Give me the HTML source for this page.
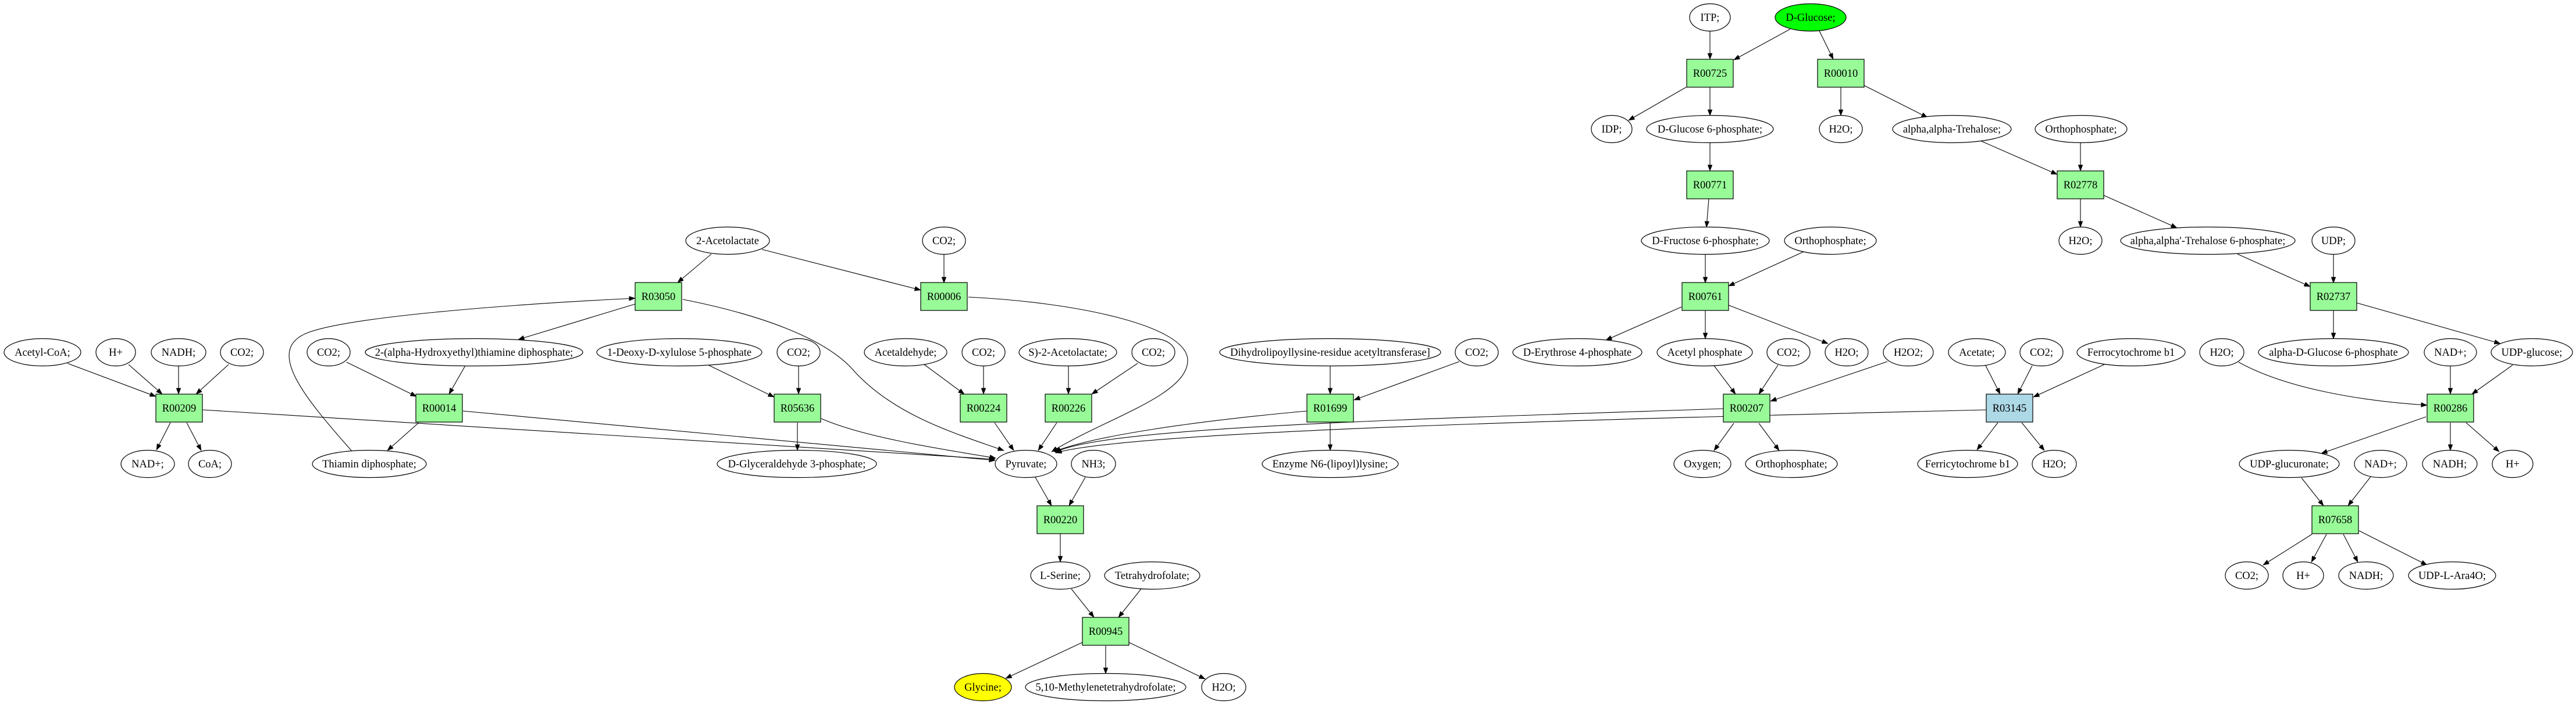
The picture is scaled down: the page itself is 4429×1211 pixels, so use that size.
<!DOCTYPE html>
<html><head><meta charset="utf-8"><style>
html,body{margin:0;padding:0;background:#fff;}
svg{display:block;}
text{font-family:"Liberation Serif","Times New Roman",serif;font-size:18.5px;text-anchor:middle;fill:#000;}
ellipse,rect.n{stroke:#000;stroke-width:1.2;}
path.e{fill:none;stroke:#000;stroke-width:1.1;marker-end:url(#ah);}
</style></head><body>
<svg width="4429" height="1211" viewBox="0 0 4429 1211" xmlns="http://www.w3.org/2000/svg">
<defs>
<marker id="ah" markerUnits="userSpaceOnUse" markerWidth="11" markerHeight="8" refX="10.5" refY="4" orient="auto">
<path d="M0,0 L10.5,4 L0,8 z" fill="#000" stroke="#000" stroke-width="0.5"/>
</marker>
</defs>
<rect x="0" y="0" width="4429" height="1211" style="fill:#fff;stroke:none"/>

<!-- edges -->
<path class="e" d="M2940,53 L2940,102"/>
<path class="e" d="M3078,50 L2981,103"/>
<path class="e" d="M3128,53 L3152,102"/>
<path class="e" d="M2899,150 L2800,207"/>
<path class="e" d="M2940,150 L2940,199"/>
<path class="e" d="M3165,150 L3165,199"/>
<path class="e" d="M3205,147 L3314,202"/>
<path class="e" d="M2940,246 L2940,294"/>
<path class="e" d="M3407,243 L3537,300"/>
<path class="e" d="M3577,246 L3577,294"/>
<path class="e" d="M2938,342 L2934,391"/>
<path class="e" d="M3577,342 L3577,391"/>
<path class="e" d="M3617,336 L3743,392"/>

<path class="e" d="M2932,437 L2932,487"/>
<path class="e" d="M3101,433 L2972,492"/>
<path class="e" d="M3847,437 L3972,493"/>
<path class="e" d="M4012,437 L4012,487"/>
<path class="e" d="M1223,437 L1165,486"/>
<path class="e" d="M1310,429 L1583,499"/>
<path class="e" d="M1623,437 L1623,487"/>

<path class="e" d="M1092,523 L891,584"/>
<path class="e" d="M2891,528 L2761,585"/>
<path class="e" d="M2932,534 L2932,583"/>
<path class="e" d="M2972,525 L3143,591"/>
<path class="e" d="M4012,534 L4012,583"/>
<path class="e" d="M4052,521 L4299,591"/>

<path class="e" d="M605,776 C520,680 455,600 530,572 C600,546 850,525 1092,513"/>
<path class="e" d="M1174,515 C1300,540 1420,580 1470,640 C1540,715 1640,745 1726,775"/>
<path class="e" d="M1665,511 C1850,520 2042,560 2042,620 C2042,680 1900,720 1808,777"/>

<path class="e" d="M349,705 L1711,790"/>
<path class="e" d="M796,707 L1711,792"/>
<path class="e" d="M1412,720 C1480,750 1600,770 1712,788"/>
<path class="e" d="M1710,727 L1743,775"/>
<path class="e" d="M1817,727 L1785,775"/>
<path class="e" d="M2247,707 C2050,725 1880,750 1812,777"/>
<path class="e" d="M2963,703 C2400,722 1900,735 1814,778"/>
<path class="e" d="M3415,705 C2800,720 1950,740 1815,779"/>

<path class="e" d="M116,625 L268,682"/>
<path class="e" d="M221,627 L279,678"/>
<path class="e" d="M307,629 L307,678"/>
<path class="e" d="M393,627 L337,678"/>
<path class="e" d="M596,623 L716,682"/>
<path class="e" d="M800,629 L772,678"/>
<path class="e" d="M1218,628 L1331,683"/>
<path class="e" d="M1373,629 L1373,678"/>
<path class="e" d="M1589,627 L1658,678"/>
<path class="e" d="M1691,629 L1691,678"/>
<path class="e" d="M1837,629 L1837,678"/>
<path class="e" d="M1956,625 L1877,678"/>
<path class="e" d="M2287,629 L2287,678"/>
<path class="e" d="M2509,622 L2328,688"/>
<path class="e" d="M2947,629 L2984,678"/>
<path class="e" d="M3057,628 L3024,678"/>
<path class="e" d="M3245,622 L3044,690"/>
<path class="e" d="M3414,629 L3439,678"/>
<path class="e" d="M3494,629 L3469,678"/>
<path class="e" d="M3618,627 L3496,683"/>
<path class="e" d="M3849,623 C3930,668 4060,690 4173,697"/>
<path class="e" d="M4213,629 L4213,678"/>
<path class="e" d="M4320,628 L4250,678"/>

<path class="e" d="M293,727 L269,774"/>
<path class="e" d="M321,727 L346,775"/>
<path class="e" d="M720,727 L666,775"/>
<path class="e" d="M1371,727 L1371,775"/>
<path class="e" d="M2287,727 L2287,775"/>
<path class="e" d="M2981,728 L2947,775"/>
<path class="e" d="M3024,728 L3059,775"/>
<path class="e" d="M3435,727 L3399,774"/>
<path class="e" d="M3476,727 L3515,775"/>
<path class="e" d="M4171,717 L3991,780"/>
<path class="e" d="M4213,727 L4213,775"/>
<path class="e" d="M4240,727 L4297,777"/>

<path class="e" d="M1780,821 L1808,870"/>
<path class="e" d="M1866,821 L1838,870"/>
<path class="e" d="M3957,822 L3995,870"/>
<path class="e" d="M4076,820 L4037,870"/>

<path class="e" d="M1823,918 L1823,967"/>
<path class="e" d="M3975,919 L3891,972"/>
<path class="e" d="M4000,919 L3974,967"/>
<path class="e" d="M4029,919 L4054,967"/>
<path class="e" d="M4056,913 L4173,972"/>

<path class="e" d="M1842,1013 L1881,1062"/>
<path class="e" d="M1962,1013 L1923,1062"/>
<path class="e" d="M1861,1105 L1729,1167"/>
<path class="e" d="M1901,1111 L1901,1159"/>
<path class="e" d="M1941,1105 L2072,1168"/>

<!-- ellipse nodes -->
<g fill="#fff">
<ellipse cx="2940" cy="30" rx="35" ry="23.5"/><text x="2940" y="36">ITP;</text>
<ellipse cx="3113" cy="30" rx="61" ry="23.5" fill="#00ff00"/><text x="3113" y="36">D-Glucose;</text>

<ellipse cx="2771" cy="222" rx="35" ry="23.5"/><text x="2771" y="228">IDP;</text>
<ellipse cx="2940" cy="222" rx="109" ry="23.5"/><text x="2940" y="228">D-Glucose 6-phosphate;</text>
<ellipse cx="3165" cy="222" rx="37" ry="23.5"/><text x="3165" y="228">H2O;</text>
<ellipse cx="3356" cy="222" rx="102" ry="23.5"/><text x="3356" y="228">alpha,alpha-Trehalose;</text>
<ellipse cx="3578" cy="222" rx="79" ry="23.5"/><text x="3578" y="228">Orthophosphate;</text>

<ellipse cx="1251" cy="414" rx="72" ry="23.5"/><text x="1251" y="420">2-Acetolactate</text>
<ellipse cx="1623" cy="414" rx="37" ry="23.5"/><text x="1623" y="420">CO2;</text>
<ellipse cx="2932" cy="414" rx="110" ry="23.5"/><text x="2932" y="420">D-Fructose 6-phosphate;</text>
<ellipse cx="3147" cy="414" rx="79" ry="23.5"/><text x="3147" y="420">Orthophosphate;</text>
<ellipse cx="3577" cy="414" rx="37" ry="23.5"/><text x="3577" y="420">H2O;</text>
<ellipse cx="3796" cy="414" rx="150" ry="23.5"/><text x="3796" y="420">alpha,alpha'-Trehalose 6-phosphate;</text>
<ellipse cx="4012" cy="414" rx="37" ry="23.5"/><text x="4012" y="420">UDP;</text>

<ellipse cx="73" cy="606" rx="66" ry="23.5"/><text x="73" y="612">Acetyl-CoA;</text>
<ellipse cx="199" cy="606" rx="34" ry="23.5"/><text x="199" y="612">H+</text>
<ellipse cx="307" cy="606" rx="47" ry="23.5"/><text x="307" y="612">NADH;</text>
<ellipse cx="416" cy="606" rx="37" ry="23.5"/><text x="416" y="612">CO2;</text>
<ellipse cx="565" cy="606" rx="37" ry="23.5"/><text x="565" y="612">CO2;</text>
<ellipse cx="815" cy="606" rx="187" ry="23.5"/><text x="815" y="612">2-(alpha-Hydroxyethyl)thiamine diphosphate;</text>
<ellipse cx="1168" cy="606" rx="142" ry="23.5"/><text x="1168" y="612">1-Deoxy-D-xylulose 5-phosphate</text>
<ellipse cx="1373" cy="606" rx="37" ry="23.5"/><text x="1373" y="612">CO2;</text>
<ellipse cx="1557" cy="606" rx="71" ry="23.5"/><text x="1557" y="612">Acetaldehyde;</text>
<ellipse cx="1691" cy="606" rx="37" ry="23.5"/><text x="1691" y="612">CO2;</text>
<ellipse cx="1836" cy="606" rx="84" ry="23.5"/><text x="1836" y="612">S)-2-Acetolactate;</text>
<ellipse cx="1983" cy="606" rx="37" ry="23.5"/><text x="1983" y="612">CO2;</text>
<ellipse cx="2287" cy="606" rx="190" ry="23.5"/><text x="2287" y="612">Dihydrolipoyllysine-residue acetyltransferase]</text>
<ellipse cx="2539" cy="606" rx="37" ry="23.5"/><text x="2539" y="612">CO2;</text>
<ellipse cx="2712" cy="606" rx="111" ry="23.5"/><text x="2712" y="612">D-Erythrose 4-phosphate</text>
<ellipse cx="2931" cy="606" rx="82" ry="23.5"/><text x="2931" y="612">Acetyl phosphate</text>
<ellipse cx="3075" cy="606" rx="37" ry="23.5"/><text x="3075" y="612">CO2;</text>
<ellipse cx="3175" cy="606" rx="37" ry="23.5"/><text x="3175" y="612">H2O;</text>
<ellipse cx="3281" cy="606" rx="43" ry="23.5"/><text x="3281" y="612">H2O2;</text>
<ellipse cx="3399" cy="606" rx="49" ry="23.5"/><text x="3399" y="612">Acetate;</text>
<ellipse cx="3510" cy="606" rx="37" ry="23.5"/><text x="3510" y="612">CO2;</text>
<ellipse cx="3664" cy="606" rx="93" ry="23.5"/><text x="3664" y="612">Ferrocytochrome b1</text>
<ellipse cx="3820" cy="606" rx="38" ry="23.5"/><text x="3820" y="612">H2O;</text>
<ellipse cx="4012" cy="606" rx="129" ry="23.5"/><text x="4012" y="612">alpha-D-Glucose 6-phosphate</text>
<ellipse cx="4213" cy="606" rx="45" ry="23.5"/><text x="4213" y="612">NAD+;</text>
<ellipse cx="4353" cy="606" rx="70" ry="23.5"/><text x="4353" y="612">UDP-glucose;</text>

<ellipse cx="254" cy="798" rx="46" ry="23.5"/><text x="254" y="804">NAD+;</text>
<ellipse cx="361" cy="798" rx="37" ry="23.5"/><text x="361" y="804">CoA;</text>
<ellipse cx="635" cy="798" rx="98" ry="23.5"/><text x="635" y="804">Thiamin diphosphate;</text>
<ellipse cx="1370" cy="798" rx="137" ry="23.5"/><text x="1370" y="804">D-Glyceraldehyde 3-phosphate;</text>
<ellipse cx="1764" cy="798" rx="53" ry="23.5"/><text x="1764" y="804">Pyruvate;</text>
<ellipse cx="1880" cy="798" rx="38" ry="23.5"/><text x="1880" y="804">NH3;</text>
<ellipse cx="2287" cy="798" rx="117" ry="23.5"/><text x="2287" y="804">Enzyme N6-(lipoyl)lysine;</text>
<ellipse cx="2927" cy="798" rx="49" ry="23.5"/><text x="2927" y="804">Oxygen;</text>
<ellipse cx="3080" cy="798" rx="79" ry="23.5"/><text x="3080" y="804">Orthophosphate;</text>
<ellipse cx="3383" cy="798" rx="86" ry="23.5"/><text x="3383" y="804">Ferricytochrome b1</text>
<ellipse cx="3532" cy="798" rx="38" ry="23.5"/><text x="3532" y="804">H2O;</text>
<ellipse cx="3936" cy="798" rx="86" ry="23.5"/><text x="3936" y="804">UDP-glucuronate;</text>
<ellipse cx="4093" cy="798" rx="45" ry="23.5"/><text x="4093" y="804">NAD+;</text>
<ellipse cx="4212" cy="798" rx="47" ry="23.5"/><text x="4212" y="804">NADH;</text>
<ellipse cx="4320" cy="798" rx="35" ry="23.5"/><text x="4320" y="804">H+</text>

<ellipse cx="1823" cy="990" rx="51" ry="23.5"/><text x="1823" y="996">L-Serine;</text>
<ellipse cx="1981" cy="990" rx="82" ry="23.5"/><text x="1981" y="996">Tetrahydrofolate;</text>
<ellipse cx="3863" cy="990" rx="37" ry="23.5"/><text x="3863" y="996">CO2;</text>
<ellipse cx="3960" cy="990" rx="35" ry="23.5"/><text x="3960" y="996">H+</text>
<ellipse cx="4068" cy="990" rx="47" ry="23.5"/><text x="4068" y="996">NADH;</text>
<ellipse cx="4216" cy="990" rx="75" ry="23.5"/><text x="4216" y="996">UDP-L-Ara4O;</text>

<ellipse cx="1690" cy="1182" rx="49" ry="23.5" fill="#ffff00"/><text x="1690" y="1188">Glycine;</text>
<ellipse cx="1901" cy="1182" rx="138" ry="23.5"/><text x="1901" y="1188">5,10-Methylenetetrahydrofolate;</text>
<ellipse cx="2104" cy="1182" rx="38" ry="23.5"/><text x="2104" y="1188">H2O;</text>
</g>

<!-- reaction boxes -->
<g fill="#98fb98">
<rect class="n" x="2900" y="102" width="80" height="48"/><text x="2940" y="132">R00725</text>
<rect class="n" x="3125" y="102" width="80" height="48"/><text x="3165" y="132">R00010</text>
<rect class="n" x="2900" y="294" width="80" height="48"/><text x="2940" y="324">R00771</text>
<rect class="n" x="3537" y="294" width="80" height="48"/><text x="3577" y="324">R02778</text>
<rect class="n" x="1092" y="486" width="80" height="48"/><text x="1132" y="516">R03050</text>
<rect class="n" x="1583" y="486" width="80" height="48"/><text x="1623" y="516">R00006</text>
<rect class="n" x="2892" y="486" width="80" height="48"/><text x="2932" y="516">R00761</text>
<rect class="n" x="3972" y="486" width="80" height="48"/><text x="4012" y="516">R02737</text>
<rect class="n" x="268" y="678" width="80" height="48"/><text x="308" y="708">R00209</text>
<rect class="n" x="715" y="678" width="80" height="48"/><text x="755" y="708">R00014</text>
<rect class="n" x="1331" y="678" width="80" height="48"/><text x="1371" y="708">R05636</text>
<rect class="n" x="1651" y="678" width="80" height="48"/><text x="1691" y="708">R00224</text>
<rect class="n" x="1797" y="678" width="80" height="48"/><text x="1837" y="708">R00226</text>
<rect class="n" x="2247" y="678" width="80" height="48"/><text x="2287" y="708">R01699</text>
<rect class="n" x="2963" y="678" width="80" height="48"/><text x="3003" y="708">R00207</text>
<rect class="n" x="3415" y="678" width="80" height="48" fill="#add8e6"/><text x="3455" y="708">R03145</text>
<rect class="n" x="4173" y="678" width="80" height="48"/><text x="4213" y="708">R00286</text>
<rect class="n" x="1783" y="870" width="80" height="48"/><text x="1823" y="900">R00220</text>
<rect class="n" x="3975" y="870" width="80" height="48"/><text x="4015" y="900">R07658</text>
<rect class="n" x="1861" y="1062" width="80" height="48"/><text x="1901" y="1092">R00945</text>
</g>
</svg>
</body></html>
